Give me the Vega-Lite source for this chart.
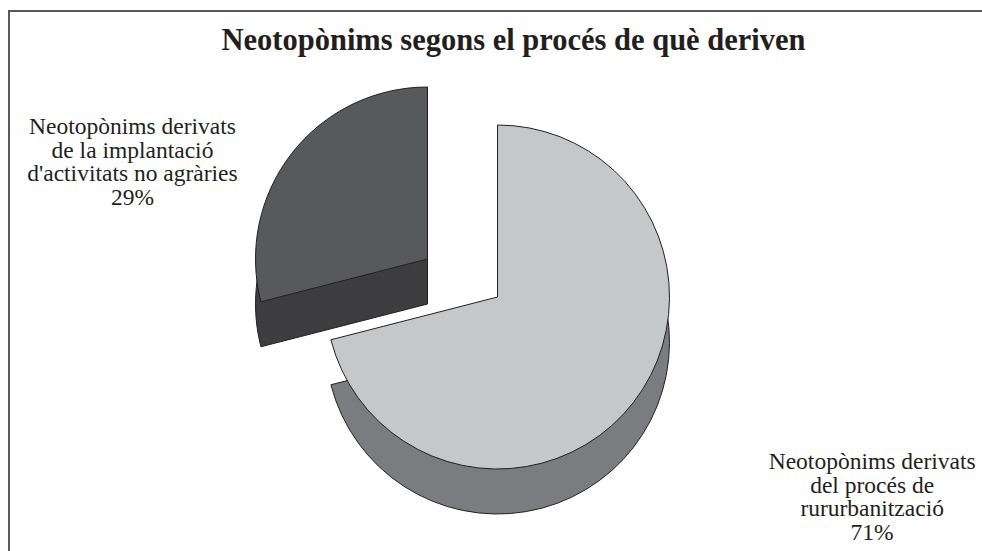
{
  "$schema": "https://vega.github.io/schema/vega-lite/v6.json",
  "width": 982,
  "height": 551,
  "autosize": {"type": "fit", "contains": "padding"},
  "padding": {"left": 9, "top": 11, "right": -12, "bottom": -12},
  "background": "white",
  "view": {"stroke": "#5a5a5a", "strokeWidth": 2, "fill": "white"},
  "config": {"view": {"stroke": "#5a5a5a", "strokeWidth": 2}},
  "title": {
    "text": "Neotopònims segons el procés de què deriven",
    "font": "Liberation Serif",
    "fontSize": 30.5,
    "fontWeight": "bold",
    "color": "#231f20",
    "anchor": "middle",
    "frame": "group",
    "baseline": "middle",
    "offset": -60,
    "dx": 12
  },
  "data": {
    "values": [
      {"grup": "rururbanització", "pct": 71, "etiqueta": "Neotopònims derivats\ndel procés de\nrururbanització\n71%"},
      {"grup": "activitats no agràries", "pct": 29, "etiqueta": "Neotopònims derivats\nde la implantació\nd'activitats no agràries\n29%"}
    ]
  },
  "transform": [
    {"stack": "pct", "groupby": [], "sort": [{"field": "pct", "order": "descending"}], "as": ["inici", "fi"]}
  ],
  "layer": [
    {
      "transform": [{"filter": "datum.pct == 29"}],
      "mark": {"type": "arc", "outerRadius": 172, "xOffset": -74, "yOffset": 17, "fill": "#3d3d3f", "stroke": "#231f20", "strokeWidth": 1},
      "encoding": {
        "theta": {"field": "inici", "type": "quantitative", "scale": {"domain": [0, 100]}},
        "theta2": {"field": "fi"}
      }
    },
    {
      "transform": [{"filter": "datum.pct == 29"}],
      "mark": {"type": "arc", "outerRadius": 172, "xOffset": -74, "yOffset": -28, "fill": "#58595b", "stroke": "#231f20", "strokeWidth": 1},
      "encoding": {
        "theta": {"field": "inici", "type": "quantitative", "scale": {"domain": [0, 100]}},
        "theta2": {"field": "fi"}
      }
    },
    {
      "transform": [{"filter": "datum.pct == 71"}],
      "mark": {"type": "arc", "outerRadius": 172, "xOffset": -4, "yOffset": 55, "fill": "#7b7c80", "stroke": "#231f20", "strokeWidth": 1},
      "encoding": {
        "theta": {"field": "inici", "type": "quantitative", "scale": {"domain": [0, 100]}},
        "theta2": {"field": "fi"}
      }
    },
    {
      "transform": [{"filter": "datum.pct == 71"}],
      "mark": {"type": "arc", "outerRadius": 172, "xOffset": -4, "yOffset": 10, "fill": "#c6c7c9", "stroke": "#231f20", "strokeWidth": 1},
      "encoding": {
        "theta": {"field": "inici", "type": "quantitative", "scale": {"domain": [0, 100]}},
        "theta2": {"field": "fi"}
      }
    },
    {
      "mark": {"type": "text", "radius": 340, "xOffset": -4, "yOffset": 10, "dx": 106, "dy": -43, "font": "Liberation Serif", "fontSize": 23.5, "lineHeight": 23.5, "lineBreak": "\n", "align": "center", "baseline": "middle", "color": "#231f20"},
      "encoding": {
        "theta": {"field": "pct", "type": "quantitative", "stack": true, "scale": {"domain": [0, 100]}},
        "order": {"field": "pct", "sort": "descending"},
        "text": {"condition": {"test": "datum.pct == 71", "field": "etiqueta", "type": "nominal"}, "value": ""}
      }
    },
    {
      "mark": {"type": "text", "radius": 200, "xOffset": -74, "yOffset": -28, "dx": -137, "dy": -9, "font": "Liberation Serif", "fontSize": 23.5, "lineHeight": 23.5, "lineBreak": "\n", "align": "center", "baseline": "middle", "color": "#231f20"},
      "encoding": {
        "theta": {"field": "pct", "type": "quantitative", "stack": true, "scale": {"domain": [0, 100]}},
        "order": {"field": "pct", "sort": "descending"},
        "text": {"condition": {"test": "datum.pct == 29", "field": "etiqueta", "type": "nominal"}, "value": ""}
      }
    }
  ]
}
